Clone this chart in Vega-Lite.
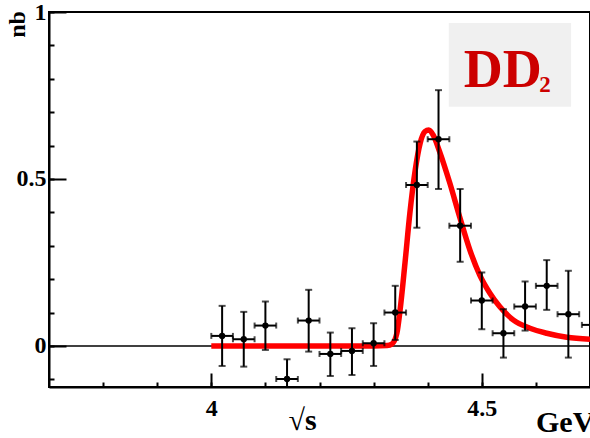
{
  "$schema": "https://vega.github.io/schema/vega-lite/v6.json",
  "width": 541,
  "height": 375,
  "autosize": {"type": "none"},
  "padding": {"left": 49, "top": 12, "right": 0, "bottom": 51},
  "background": "white",
  "view": {"stroke": "black", "strokeWidth": 2},
  "config": {"font": "Liberation Serif"},
  "title": {"text": "GeV", "orient": "bottom", "anchor": "end", "frame": "group", "align": "left", "dx": -54, "offset": -27, "fontSize": 30, "font": "Liberation Serif", "fontWeight": "bold", "color": "black"},
  "resolve": {"axis": {"x": "independent", "y": "independent"}},
  "datasets": {
    "pts": [
      {"x": 4.02, "y": 0.030, "ylo": -0.060, "yhi": 0.120, "xlo": 4.00, "xhi": 4.04},
      {"x": 4.06, "y": 0.020, "ylo": -0.062, "yhi": 0.102, "xlo": 4.04, "xhi": 4.08},
      {"x": 4.10, "y": 0.061, "ylo": -0.012, "yhi": 0.133, "xlo": 4.08, "xhi": 4.12},
      {"x": 4.14, "y": -0.099, "ylo": -0.160, "yhi": -0.040, "xlo": 4.12, "xhi": 4.16},
      {"x": 4.18, "y": 0.076, "ylo": -0.017, "yhi": 0.168, "xlo": 4.16, "xhi": 4.20},
      {"x": 4.22, "y": -0.024, "ylo": -0.090, "yhi": 0.040, "xlo": 4.20, "xhi": 4.24},
      {"x": 4.26, "y": -0.015, "ylo": -0.087, "yhi": 0.053, "xlo": 4.24, "xhi": 4.28},
      {"x": 4.30, "y": 0.008, "ylo": -0.060, "yhi": 0.068, "xlo": 4.28, "xhi": 4.32},
      {"x": 4.34, "y": 0.100, "ylo": 0.018, "yhi": 0.180, "xlo": 4.32, "xhi": 4.36},
      {"x": 4.38, "y": 0.482, "ylo": 0.354, "yhi": 0.612, "xlo": 4.36, "xhi": 4.40},
      {"x": 4.42, "y": 0.619, "ylo": 0.470, "yhi": 0.766, "xlo": 4.40, "xhi": 4.44},
      {"x": 4.46, "y": 0.360, "ylo": 0.252, "yhi": 0.470, "xlo": 4.44, "xhi": 4.48},
      {"x": 4.50, "y": 0.136, "ylo": 0.050, "yhi": 0.220, "xlo": 4.48, "xhi": 4.52},
      {"x": 4.54, "y": 0.038, "ylo": -0.035, "yhi": 0.110, "xlo": 4.52, "xhi": 4.56},
      {"x": 4.58, "y": 0.118, "ylo": 0.046, "yhi": 0.193, "xlo": 4.56, "xhi": 4.60},
      {"x": 4.62, "y": 0.180, "ylo": 0.108, "yhi": 0.257, "xlo": 4.60, "xhi": 4.64},
      {"x": 4.66, "y": 0.095, "ylo": -0.035, "yhi": 0.225, "xlo": 4.64, "xhi": 4.68},
      {"x": 4.705, "y": 0.063, "ylo": -0.057, "yhi": 0.186, "xlo": 4.685, "xhi": 4.725}
    ],
    "curve": [
      {"x": 4.00, "y": 0},
      {"x": 4.10, "y": 0},
      {"x": 4.20, "y": 0},
      {"x": 4.30, "y": 0},
      {"x": 4.325, "y": 0.001},
      {"x": 4.334, "y": 0.006},
      {"x": 4.343, "y": 0.038},
      {"x": 4.349, "y": 0.108},
      {"x": 4.358, "y": 0.248},
      {"x": 4.367, "y": 0.397},
      {"x": 4.377, "y": 0.527},
      {"x": 4.386, "y": 0.607},
      {"x": 4.395, "y": 0.642},
      {"x": 4.402, "y": 0.647},
      {"x": 4.410, "y": 0.632},
      {"x": 4.422, "y": 0.582},
      {"x": 4.441, "y": 0.487},
      {"x": 4.459, "y": 0.387},
      {"x": 4.478, "y": 0.287},
      {"x": 4.496, "y": 0.213},
      {"x": 4.515, "y": 0.158},
      {"x": 4.533, "y": 0.118},
      {"x": 4.558, "y": 0.078},
      {"x": 4.589, "y": 0.053},
      {"x": 4.620, "y": 0.038},
      {"x": 4.657, "y": 0.026},
      {"x": 4.700, "y": 0.020}
    ],
    "box": [{"x1": 4.439, "x2": 4.665, "y1": 0.716, "y2": 0.967}],
    "labels": [
      {"t": "DD", "x": 4.5386, "y": 0.776},
      {"t": "2", "x": 4.606, "y": 0.761}
    ]
  },
  "layer": [
    {
      "data": {"name": "box"},
      "mark": {"type": "rect", "fill": "#f0f0f0", "stroke": null},
      "encoding": {
        "x": {"field": "x1", "type": "quantitative", "scale": {"domain": [3.7, 4.7], "nice": false, "zero": false},
          "axis": {
            "orient": "bottom",
            "values": [4, 4.5],
            "format": "",
            "tickSize": -14,
            "tickWidth": 2, "tickColor": "black",
            "domainColor": "black", "domainWidth": 2,
            "labelFont": "Liberation Serif", "labelFontWeight": "bold", "labelFontSize": 24, "labelColor": "black",
            "labelPadding": 23, "labelFlush": false, "labelOverlap": false,
            "grid": false,
            "title": "√s", "titleX": 253, "titleY": 42, "titleFontSize": 30, "titleFontWeight": "bold", "titleFont": "Liberation Serif", "titleBaseline": "alphabetic", "titleAlign": "center", "titleColor": "black"
          }},
        "x2": {"field": "x2"},
        "y": {"field": "y1", "type": "quantitative", "scale": {"domain": [-0.123, 1], "nice": false, "zero": false},
          "axis": {
            "orient": "left",
            "values": [0, 0.5, 1],
            "format": "",
            "tickSize": -17,
            "tickWidth": 2, "tickColor": "black",
            "domainColor": "black", "domainWidth": 2,
            "labelFont": "Liberation Serif", "labelFontWeight": "bold", "labelFontSize": 24, "labelColor": "black",
            "labelPadding": 20, "labelFlush": false, "labelOverlap": false, "labelBound": false,
            "grid": false,
            "title": "nb", "titleX": -32, "titleY": 12, "titleAngle": 270, "titleFontSize": 24, "titleFontWeight": "bold", "titleFont": "Liberation Serif", "titleBaseline": "middle", "titleAlign": "center", "titleColor": "black"
          }},
        "y2": {"field": "y2"}
      }
    },
    {
      "data": {"name": "labels"},
      "transform": [{"filter": "datum.t == 'DD'"}],
      "mark": {"type": "text", "font": "Liberation Serif", "fontWeight": "bold", "fontSize": 54, "color": "#cc0000", "align": "center", "baseline": "alphabetic"},
      "encoding": {
        "x": {"field": "x", "type": "quantitative", "axis": null},
        "y": {"field": "y", "type": "quantitative", "axis": null},
        "text": {"field": "t"}
      }
    },
    {
      "data": {"name": "labels"},
      "transform": [{"filter": "datum.t == '2'"}],
      "mark": {"type": "text", "font": "Liberation Serif", "fontWeight": "bold", "fontSize": 23, "color": "#cc0000", "align": "left", "baseline": "alphabetic"},
      "encoding": {
        "x": {"field": "x", "type": "quantitative", "axis": null},
        "y": {"field": "y", "type": "quantitative", "axis": null},
        "text": {"field": "t"}
      }
    },
    {
      "data": {"values": [{"v": 0}]},
      "mark": {"type": "rule", "color": "black", "strokeWidth": 1.5},
      "encoding": {"y": {"field": "v", "type": "quantitative", "axis": null}}
    },
    {
      "data": {"name": "curve"},
      "mark": {"type": "line", "color": "#ff0000", "strokeWidth": 5.5, "interpolate": "monotone", "clip": true, "strokeCap": "butt"},
      "encoding": {
        "x": {"field": "x", "type": "quantitative",
          "axis": {
            "orient": "bottom",
            "values": [3.8, 3.9, 4, 4.1, 4.2, 4.3, 4.4, 4.5, 4.6],
            "tickSize": -5, "tickWidth": 2, "tickColor": "black",
            "labels": false, "domain": false, "grid": false, "title": null
          }},
        "y": {"field": "y", "type": "quantitative",
          "axis": {
            "orient": "left",
            "values": [-0.1, 0, 0.1, 0.2, 0.3, 0.4, 0.5, 0.6, 0.7, 0.8, 0.9, 1],
            "tickSize": -5, "tickWidth": 2, "tickColor": "black",
            "labels": false, "domain": false, "grid": false, "title": null
          }}
      }
    },
    {
      "data": {"name": "pts"},
      "mark": {"type": "rule", "color": "black", "strokeWidth": 2, "clip": true},
      "encoding": {
        "x": {"field": "x", "type": "quantitative", "axis": null},
        "y": {"field": "ylo", "type": "quantitative", "axis": null},
        "y2": {"field": "yhi"}
      }
    },
    {
      "data": {"name": "pts"},
      "mark": {"type": "rule", "color": "black", "strokeWidth": 2, "clip": true},
      "encoding": {
        "x": {"field": "xlo", "type": "quantitative", "axis": null},
        "x2": {"field": "xhi"},
        "y": {"field": "y", "type": "quantitative", "axis": null}
      }
    },
    {
      "data": {"name": "pts"},
      "mark": {"type": "tick", "color": "black", "orient": "horizontal", "size": 7, "thickness": 2, "clip": true},
      "encoding": {
        "x": {"field": "x", "type": "quantitative", "axis": null},
        "y": {"field": "ylo", "type": "quantitative", "axis": null}
      }
    },
    {
      "data": {"name": "pts"},
      "mark": {"type": "tick", "color": "black", "orient": "horizontal", "size": 7, "thickness": 2, "clip": true},
      "encoding": {
        "x": {"field": "x", "type": "quantitative", "axis": null},
        "y": {"field": "yhi", "type": "quantitative", "axis": null}
      }
    },
    {
      "data": {"name": "pts"},
      "mark": {"type": "tick", "color": "black", "orient": "vertical", "size": 6, "thickness": 2, "clip": true},
      "encoding": {
        "x": {"field": "xlo", "type": "quantitative", "axis": null},
        "y": {"field": "y", "type": "quantitative", "axis": null}
      }
    },
    {
      "data": {"name": "pts"},
      "mark": {"type": "tick", "color": "black", "orient": "vertical", "size": 6, "thickness": 2, "clip": true},
      "encoding": {
        "x": {"field": "xhi", "type": "quantitative", "axis": null},
        "y": {"field": "y", "type": "quantitative", "axis": null}
      }
    },
    {
      "data": {"name": "pts"},
      "mark": {"type": "circle", "color": "black", "opacity": 1, "size": 40, "clip": true},
      "encoding": {
        "x": {"field": "x", "type": "quantitative", "axis": null},
        "y": {"field": "y", "type": "quantitative", "axis": null}
      }
    }
  ]
}
